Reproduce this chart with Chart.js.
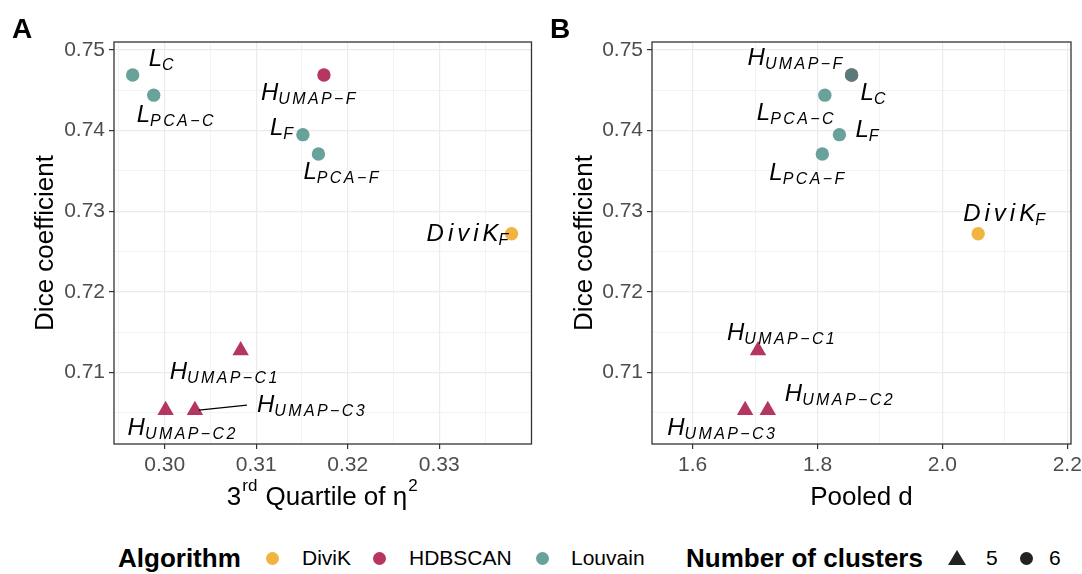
<!DOCTYPE html>
<html>
<head>
<meta charset="utf-8">
<script src="https://cdn.jsdelivr.net/npm/chart.js@4/dist/chart.umd.min.js"></script>
<style>
  body { margin: 0; background: #fff; width: 1082px; height: 574px; overflow: hidden; position: relative;
         font-family: 'Liberation Sans', Arial, sans-serif; }
  .panel { position: absolute; top: 0; width: 541px; height: 520px; }
  #legend span { position: absolute; line-height: 24px; top: 546px; color: #000; white-space: nowrap; }
  #legend .ttl { font-weight: bold; font-size: 26px; }
  #legend .lab { font-size: 21px; }
  #legend .dot { width: 13px; height: 13px; border-radius: 50%; top: 552px; }
  #legend .tri { width: 0; height: 0; border-left: 9px solid transparent; border-right: 9px solid transparent;
                 border-bottom: 15px solid #222; top: 550px; }
</style>
</head>
<body>
<div class="panel" style="left:0"><canvas id="chartA"></canvas></div>
<div class="panel" style="left:541px"><canvas id="chartB"></canvas></div>
<div id="legend">
  <span class="ttl" style="left:118px">Algorithm</span>
  <span class="dot" style="left:266px;background:#F2B441"></span>
  <span class="lab" style="left:302px">DiviK</span>
  <span class="dot" style="left:373px;background:#B5365E"></span>
  <span class="lab" style="left:409px">HDBSCAN</span>
  <span class="dot" style="left:536px;background:#68A29B"></span>
  <span class="lab" style="left:571px">Louvain</span>
  <span class="ttl" style="left:686px">Number of clusters</span>
  <span class="tri" style="left:948px"></span>
  <span class="lab" style="left:986px">5</span>
  <span class="dot" style="left:1020px;background:#222"></span>
  <span class="lab" style="left:1049px">6</span>
</div>
<script>
// points (same order in every array)
const labelMain = ['DiviK', 'H', 'H', 'H', 'H', 'L', 'L', 'L', 'L'];
const labelSub = ['F', 'UMAP\u2212F', 'UMAP\u2212C1', 'UMAP\u2212C2', 'UMAP\u2212C3', 'C', 'F', 'PCA\u2212C', 'PCA\u2212F'];
const algorithm = ['DiviK', 'HDBSCAN', 'HDBSCAN', 'HDBSCAN', 'HDBSCAN', 'Louvain', 'Louvain', 'Louvain', 'Louvain'];
const nClusters = [6, 6, 5, 5, 5, 6, 6, 6, 6];
const diceCoef = [0.7272, 0.7469, 0.7127, 0.7053, 0.7053, 0.7469, 0.7395, 0.7444, 0.7371];
const eta2Q3 = [0.3379, 0.3174, 0.3083, 0.3001, 0.3033, 0.2965, 0.3151, 0.2988, 0.3168];
const pooledD = [2.0573, 1.8545, 1.7046, 1.7203, 1.6840, 1.8545, 1.8350, 1.8117, 1.8076];

// ticks
const yTicks = [0.71, 0.72, 0.73, 0.74, 0.75];
const yMinor = [0.705, 0.715, 0.725, 0.735, 0.745];
const xTicksA = [0.30, 0.31, 0.32, 0.33];
const xMinorA = [0.295, 0.305, 0.315, 0.325, 0.335];
const xTicksB = [1.6, 1.8, 2.0, 2.2];
const xMinorB = [1.7, 1.9, 2.1];

// points are drawn with alpha 0.8 (overlap in B gets darker)
const algoColors = { DiviK: 'rgba(239,161,18,0.8)', HDBSCAN: 'rgba(162,4,54,0.8)', Louvain: 'rgba(66,139,130,0.8)' };
// chart.js paints the first dataset on top
const drawOrder = ['Louvain', 'DiviK', 'HDBSCAN'];

// label placement: [dx to label start, dy to baseline] in px, plus leader line flag
const offsetsA = [[-85, 7], [-63, 25], [-71, 28], [-38, 25], [62, 2, true], [16, -9], [-33, 0], [-17, 27], [-15, 25]];
const offsetsB = [[-15, -13], [-104, -10], [-31, -11], [17, -9], [-78, 25], [9, 25], [16, 2], [-68, 25], [-53, 26]];

const FONT = "'Liberation Sans', Arial, sans-serif";

function drawRich(ctx, x, y, main, sub) {
  ctx.fillStyle = '#000';
  ctx.textBaseline = 'alphabetic';
  ctx.textAlign = 'left';
  ctx.font = 'italic 24px ' + FONT;
  [...main].forEach((ch, k) => {
    ctx.fillText(ch, x, y);
    x += ctx.measureText(ch).width + (k < main.length - 1 ? 4 : 0);
  });
  ctx.font = 'italic 16px ' + FONT;
  for (const ch of sub) {
    ctx.fillText(ch, x, y + 4);
    x += ctx.measureText(ch).width + 2.4;
  }
}

const decorPlugin = {
  id: 'decor',
  beforeDatasetsDraw(chart) {
    const { ctx, chartArea: a } = chart;
    ctx.save();
    ctx.strokeStyle = '#333';
    ctx.lineWidth = 1.3;
    ctx.strokeRect(a.left, a.top, a.right - a.left, a.bottom - a.top);
    ctx.restore();
  },
  afterDatasetsDraw(chart, args, opts) {
    const { ctx, chartArea: a } = chart;
    ctx.save();
    chart.data.datasets.forEach((ds, d) => {
      chart.getDatasetMeta(d).data.forEach((el, j) => {
        const i = ds.data[j].i;
        const off = opts.offsets[i];
        if (off[2]) {
          ctx.strokeStyle = '#000';
          ctx.lineWidth = 1.1;
          ctx.beginPath();
          ctx.moveTo(el.x + 4, el.y);
          ctx.lineTo(el.x + off[0] - 10, el.y + off[1] - 7);
          ctx.stroke();
        }
        drawRich(ctx, el.x + off[0], el.y + off[1], labelMain[i], labelSub[i]);
      });
    });

    // panel letter
    ctx.fillStyle = '#000';
    ctx.font = 'bold 28px ' + FONT;
    ctx.textAlign = 'left';
    ctx.textBaseline = 'alphabetic';
    ctx.fillText(opts.letter, opts.letterX, 38);

    // y title
    ctx.save();
    ctx.translate(opts.yTitleX, (a.top + a.bottom) / 2);
    ctx.rotate(-Math.PI / 2);
    ctx.font = '26px ' + FONT;
    ctx.textAlign = 'center';
    ctx.textBaseline = 'middle';
    ctx.fillText('Dice coefficient', 0, 0);
    ctx.restore();

    // x title with superscripts
    const parts = opts.xTitle;
    const base = 505;
    let total = 0;
    parts.forEach(p => {
      ctx.font = (p.sup ? '17px ' : '26px ') + FONT;
      total += ctx.measureText(p.t).width + (p.sup ? 2 : 0);
    });
    let x = (a.left + a.right) / 2 - total / 2;
    ctx.textAlign = 'left';
    ctx.textBaseline = 'alphabetic';
    parts.forEach(p => {
      ctx.font = (p.sup ? '17px ' : '26px ') + FONT;
      ctx.fillText(p.t, x + (p.sup ? 1 : 0), p.sup ? base - 14 : base);
      x += ctx.measureText(p.t).width + (p.sup ? 2 : 0);
    });
    ctx.restore();
  }
};

function axis(min, max, major, minor, fit) {
  return {
    type: 'linear', min, max,
    afterBuildTicks: s => {
      s.ticks = major.map(v => ({ value: v })).concat(minor.map(v => ({ value: v, minor: true })))
        .sort((p, q) => p.value - q.value);
    },
    afterFit: s => {
      fit(s);
      s.paddingLeft = 0; s.paddingRight = 0; s.paddingTop = 0; s.paddingBottom = 0;
    },
    border: { display: false },
    grid: {
      color: '#EBEBEB',
      lineWidth: c => (c.tick && c.tick.minor ? 0.6 : 1.2),
      tickColor: c => (c.tick && c.tick.minor ? 'rgba(0,0,0,0)' : '#333'),
      tickWidth: 1.2,
      tickLength: 5
    },
    ticks: {
      autoSkip: false, maxRotation: 0, padding: 4,
      color: '#4D4D4D',
      font: { family: FONT, size: 21 },
      callback: (v, k, ts) => (ts[k].minor ? '' : v.toFixed(2))
    }
  };
}

function makeChart(id, xs, xAxis, yWidth, padRight, plugOpts) {
  const datasets = drawOrder.map(alg => ({
    label: alg,
    data: xs.map((x, i) => ({ x, y: diceCoef[i], i })).filter(p => algorithm[p.i] === alg),
    backgroundColor: algoColors[alg],
    borderWidth: 0,
    pointStyle: c => (nClusters[c.raw.i] === 5 ? 'triangle' : 'circle'),
    pointRadius: c => (nClusters[c.raw.i] === 5 ? 9.5 : 6.7),
    pointHoverRadius: c => (nClusters[c.raw.i] === 5 ? 9.5 : 6.7)
  }));
  const yAxis = axis(0.7011, 0.751, yTicks, yMinor, s => { s.width = yWidth; });
  return new Chart(document.getElementById(id), {
    type: 'scatter',
    data: { datasets },
    options: {
      responsive: true, maintainAspectRatio: false, animation: false,
      layout: { padding: { top: 42, right: padRight, left: 0, bottom: 0 } },
      scales: { x: xAxis, y: yAxis },
      plugins: { legend: { display: false }, tooltip: { enabled: false }, decor: plugOpts }
    },
    plugins: [decorPlugin]
  });
}

const xA = axis(0.29446, 0.34008, xTicksA, xMinorA, s => { s.height = 76; });
makeChart('chartA', eta2Q3, xA, 114, 8, {
  offsets: offsetsA, letter: 'A', letterX: 12, yTitleX: 46,
  xTitle: [{ t: '3' }, { t: 'rd', sup: true }, { t: ' Quartile of \u03B7' }, { t: '2', sup: true }]
});

const xB = axis(1.5348, 2.206, xTicksB, xMinorB, s => { s.height = 76; });
xB.ticks.callback = (v, k, ts) => (ts[k].minor ? '' : v.toFixed(1));
makeChart('chartB', pooledD, xB, 111, 11, {
  offsets: offsetsB, letter: 'B', letterX: 9, yTitleX: 44,
  xTitle: [{ t: 'Pooled d' }]
});
</script>
</body>
</html>
